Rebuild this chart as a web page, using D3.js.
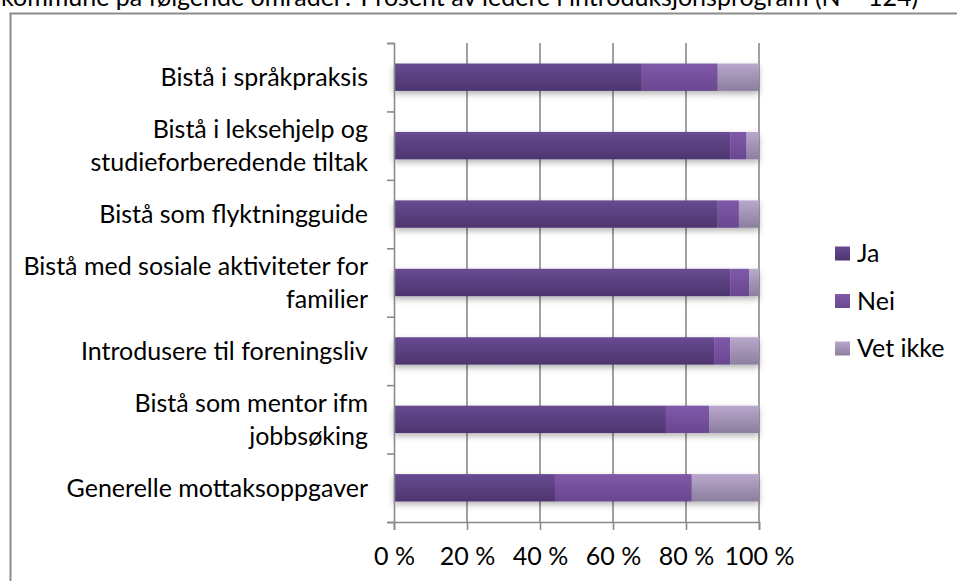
<!DOCTYPE html>
<html>
<head>
<meta charset="utf-8">
<script src="https://cdn.jsdelivr.net/npm/d3@7"></script>
<style>
  html, body { margin: 0; padding: 0; background: #fff; overflow: hidden; }
  svg { display: block; }
  text { font-family: Lato, "Open Sans", sans-serif; fill: #000; }
</style>
</head>
<body>
<svg id="chart" width="957" height="581"></svg>
<script>
// ---- data ----
const title = "kommune på følgende områder? Prosent av ledere i introduksjonsprogram (N = 124)";
const categories = [
  "Bistå i språkpraksis",
  "Bistå i leksehjelp og\nstudieforberedende tiltak",
  "Bistå som flyktningguide",
  "Bistå med sosiale aktiviteter for\nfamilier",
  "Introdusere til foreningsliv",
  "Bistå som mentor ifm\njobbsøking",
  "Generelle mottaksoppgaver"
];
const seriesNames = ["Ja", "Nei", "Vet ikke"];
const ja      = [67.9, 92.1, 88.7, 92.1, 87.7, 74.5, 44.1];
const nei     = [20.8,  4.5,  5.8,  5.2,  4.4, 11.8, 37.5];
const vetIkke = [11.3,  3.4,  5.5,  2.7,  7.9, 13.7, 18.4];
const xTicks  = [0, 20, 40, 60, 80, 100];
const xTickLabels = ["0 %", "20 %", "40 %", "60 %", "80 %", "100 %"];

// ---- setup ----
const svg = d3.select("#chart");
const FS = 25;
const colors = [
  ["#684a91", "#4d356f"],
  ["#8059aa", "#694790"],
  ["#b8a8cd", "#8c7e9e"]
];

const defs = svg.append("defs");
colors.forEach((c, i) => {
  const g = defs.append("linearGradient").attr("id", "g" + i)
    .attr("x1", 0).attr("y1", 0).attr("x2", 0).attr("y2", 1);
  g.append("stop").attr("offset", "0%").attr("stop-color", c[0]);
  g.append("stop").attr("offset", "100%").attr("stop-color", c[1]);
});
const f = defs.append("filter").attr("id", "shadow")
  .attr("x", "-5%").attr("y", "-30%").attr("width", "110%").attr("height", "180%");
f.append("feDropShadow").attr("dx", 0).attr("dy", 3).attr("stdDeviation", 3)
  .attr("flood-color", "#000").attr("flood-opacity", 0.3);

// title (cut at top as in reference)
svg.append("text").attr("x", 1).attr("y", 6)
  .style("font-size", FS + "px").text(title);

// frame
svg.append("rect").attr("x", 10.5).attr("y", 13.5)
  .attr("width", 1000).attr("height", 700)
  .attr("fill", "#fff").attr("stroke", "#8c8c8c").attr("stroke-width", 2);

const x = d3.scaleLinear().domain([0, 100]).range([394, 759]);
const y = d3.scaleBand().domain(categories).range([43, 522])
  .paddingInner(0.6).paddingOuter(0.3);
const yTicksScale = d3.scaleLinear().domain([0, categories.length]).range([43, 522]);

// gridlines
svg.append("g").selectAll("line").data(xTicks.slice(1)).join("line")
  .attr("x1", d => x(d)).attr("x2", d => x(d))
  .attr("y1", 43).attr("y2", 522)
  .attr("stroke", "#8a8a8a").attr("stroke-width", 1.6);

// stacked data
const rows = categories.map((c, i) => ({ cat: c, Ja: ja[i], Nei: nei[i], "Vet ikke": vetIkke[i] }));
const stack = d3.stack().keys(seriesNames)(rows);

const barG = svg.append("g").attr("filter", "url(#shadow)");
stack.forEach((s, si) => {
  barG.append("g").selectAll("rect").data(s).join("rect")
    .attr("x", d => x(d[0]))
    .attr("width", d => x(d[1]) - x(d[0]))
    .attr("y", d => y(d.data.cat))
    .attr("height", y.bandwidth())
    .attr("fill", "url(#g" + si + ")");
});

// y axis with ticks at band boundaries
const yAxis = svg.append("g").attr("transform", "translate(394,0)")
  .call(d3.axisLeft(yTicksScale).ticks(categories.length).tickSize(7).tickFormat(""));
yAxis.select(".domain").attr("stroke", "#8a8a8a").attr("stroke-width", 1.6);
yAxis.selectAll(".tick line").attr("stroke", "#8a8a8a").attr("stroke-width", 1.6);

// x axis
const xAxis = svg.append("g").attr("transform", "translate(0,522)")
  .call(d3.axisBottom(x).tickValues(xTicks).tickSize(8).tickPadding(17)
    .tickFormat((d, i) => xTickLabels[i]));
xAxis.select(".domain").attr("stroke", "#8a8a8a").attr("stroke-width", 1.6);
xAxis.selectAll(".tick line").attr("stroke", "#8a8a8a").attr("stroke-width", 1.6);
xAxis.selectAll(".tick text").style("font-size", FS + "px")
  .style("font-family", "Lato, sans-serif").attr("fill", "#000").attr("dy", "0.71em");

// category labels
const lineH = 33;
svg.append("g").selectAll("text").data(categories).join("text")
  .attr("text-anchor", "end")
  .style("font-size", FS + "px")
  .each(function (d) {
    const lines = d.split("\n");
    const cy = y(d) + y.bandwidth() / 2;
    const t = d3.select(this);
    lines.forEach((ln, li) => {
      t.append("tspan").attr("x", 368)
        .attr("y", cy + (li - (lines.length - 1) / 2) * lineH)
        .attr("dy", "0.35em").text(ln);
    });
  });

// legend
const legY = d3.scaleLinear().domain([0, 2]).range([253.5, 348.5]);
const leg = svg.append("g");
seriesNames.forEach((n, i) => {
  leg.append("rect").attr("x", 835).attr("y", legY(i) - 7)
    .attr("width", 15).attr("height", 14).attr("fill", "url(#g" + i + ")");
  leg.append("text").attr("x", 857).attr("y", legY(i)).attr("dy", "0.35em")
    .style("font-size", FS + "px").text(n);
});
</script>
</body>
</html>
